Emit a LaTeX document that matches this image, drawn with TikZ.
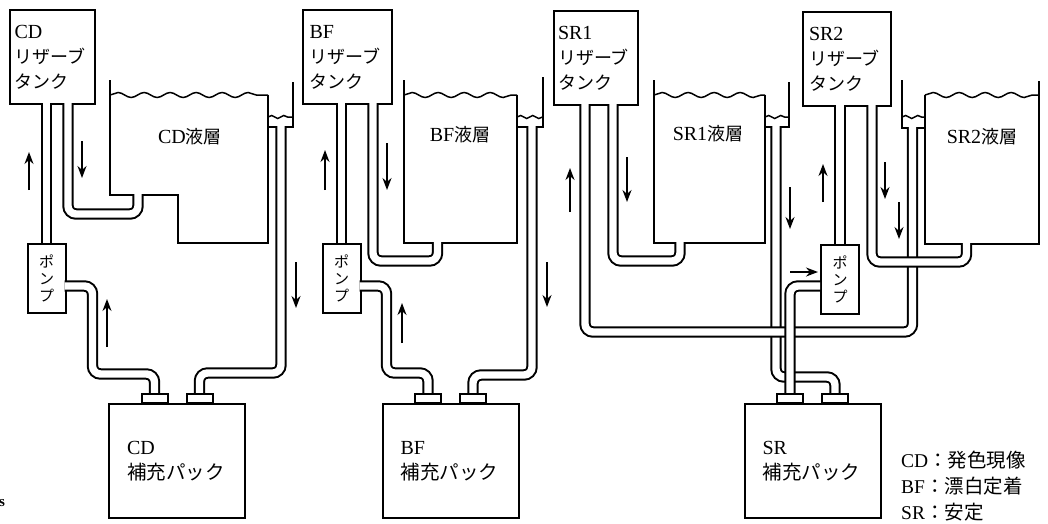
\documentclass[tikz,border=0pt]{standalone}
\usepackage{fontspec}
\setmainfont{Liberation Serif}
\newfontfamily\cjk{Noto Sans CJK JP}
\usetikzlibrary{arrows.meta,calc,decorations.pathmorphing}
\newcommand\jp[1]{{\cjk\fontsize{18}{25}\selectfont #1}}
\newcommand\jpb[1]{{\cjk\fontsize{19.5}{25}\selectfont #1}}
\tikzset{
  wall/.style={line width=2pt,line join=miter},
  pipe/.style={line width=2pt,double=white,double distance=7.4pt,rounded corners=8pt},
  surface/.style={line width=1.5pt,decorate,decoration={snake,segment length=26pt,amplitude=2.5pt}},
  ripple/.style={line width=1.5pt,decorate,decoration={snake,segment length=12pt,amplitude=1.5pt}},
  flow/.style={line width=1.5pt,-{Stealth[length=12pt,width=9pt]}},
  reserve/.style={draw,line width=2pt,fill=white,minimum height=94pt,inner xsep=0pt,
    text width=76pt,align=left,font=\fontsize{20}{25}\selectfont},
  pack/.style={draw,line width=2pt,fill=white,minimum width=136pt,minimum height=114pt,
    text width=100pt,align=left,font=\fontsize{20}{25}\selectfont},
  fitting/.style={draw,line width=2pt,fill=white,minimum width=26pt,minimum height=9.5pt,inner sep=0pt},
  pump/.style={draw,line width=2pt,fill=white,minimum width=38pt,minimum height=69pt,inner sep=0pt,
    align=center,font=\fontsize{15}{17}\selectfont\cjk},
  bathlabel/.style={font=\fontsize{20}{22}\selectfont}
}
\begin{document}
\begin{tikzpicture}[x=1pt,y=-1pt]
  \useasboundingbox (0,0) rectangle (1048,523);

  \foreach \n/\lbl/\cx/\cy/\w in {cd/CD/52.5/57/85,bf/BF/347.5/57/89,srone/SR1/596/58/84,srtwo/SR2/847/59/88}
    \node[reserve,minimum width=\w pt] (\n tank) at (\cx,\cy) {\lbl\\\jp{リザーブ}\\\jp{タンク}};
  \foreach \n/\lbl/\cx in {cd/CD/177,bf/BF/450.5,sr/SR/812.5}{
    \node[pack] (\n pack) at (\cx,461) {\lbl\\\jpb{補充パック}};
    \node[fitting] (\n packl) at ($(\n pack.north)+(-22.5,-4.5)$) {};
    \node[fitting] (\n packr) at ($(\n pack.north)+(22.5,-4.5)$) {};
  }
  \foreach \n/\cx/\cy in {cd/46.5/278,bf/341.5/278,sr/840/279}
    \node[pump] (\n pump) at (\cx,\cy) {ポ\\ン\\プ};

  % baths
  \draw[wall] (110,80) -- (110,195) -- (178,195) -- (178,243) -- (268,243) -- (268,95);
  \draw[wall] (268,127) -| (293,82);
  \draw[surface] (110,95) -- (268,95);
  \draw[ripple] (268,117) -- (293,117);
  \draw[wall] (404,80) -- (404,243) -- (517,243) -- (517,95);
  \draw[wall] (517,127) -| (543,77);
  \draw[surface] (404,95) -- (517,95);
  \draw[ripple] (517,117) -- (543,117);
  \draw[wall] (654,80) -- (654,243) -- (765,243) -- (765,95);
  \draw[wall] (765,127) -| (789,82);
  \draw[surface] (654,95) -- (765,95);
  \draw[ripple] (765,117) -- (789,117);
  \draw[wall] (1039,81) -- (1039,244) -- (925,244) -- (925,95);
  \draw[wall] (925,128) -| (902,80);
  \draw[surface] (925,95) -- (1039,95);
  \draw[ripple] (902,117) -- (925,117);

  \coordinate (cdin) at (138,194);
  \coordinate (cdout) at (281,126);
  \coordinate (bfin) at (437.5,242);
  \coordinate (bfout) at (532,126);
  \coordinate (sronein) at (680,242);
  \coordinate (sroneout) at (776,126);
  \coordinate (srtwoin) at (966.5,243);
  \coordinate (srtwoout) at (912.5,127);

  % pipes
  \draw[pipe] (cdpump.north) -- ($(cdpump.north |- cdtank.south)+(0,-2)$);
  \draw[pipe] ($(cdtank.south west)+(59,-2)$) -- ++(0,111) -| (cdin);
  \draw[pipe] ($(cdpump.east)+(-2,8)$) -- ++(28,0) -- ++(0,88) -| (cdpackl.north);
  \draw[pipe] (cdout) -- ++(0,247) -| (cdpackr.north);

  \draw[pipe] (bfpump.north) -- ($(bfpump.north |- bftank.south)+(0,-2)$);
  \draw[pipe] ($(bftank.south west)+(71,-2)$) -- ++(0,158) -| (bfin);
  \draw[pipe] ($(bfpump.east)+(-2,8)$) -- ++(27,0) -- ++(0,87) -| (bfpackl.north);
  \draw[pipe] (bfout) -- ++(0,249) -| (bfpackr.north);

  \draw[pipe] (sroneout) -- ++(0,251) -| (srpackr.north);
  \draw[pipe] ($(sronetank.south west)+(32,-2)$) -- ++(0,228) -| (srtwoout);
  \draw[pipe] ($(sronetank.south west)+(60,-2)$) -- ++(0,157) -| (sronein);
  \draw[pipe] ($(srtwotank.south west)+(70,-2)$) -- ++(0,157) -| (srtwoin);
  \draw[pipe] (srpump.north) -- ($(srpump.north |- srtwotank.south)+(0,-2)$);
  \draw[pipe] ($(srpump.west)+(0,7)$) -| (srpackl.north);

  \foreach \ax/\ya/\yb in {29/190/152,82/141/178,296/262/308,107/347/299,325/190/150,387/143/190,
      402/343/303,547/262/307,570/212/168,627/157/202,790/187/229,823/202/164,885/162/199,899/202/239}
    \draw[flow] (\ax,\ya) -- (\ax,\yb);
  \draw[flow] (790,272) -- (818,272);

  \node[bathlabel] (cdlabel) at (190,137) {CD\jp{液層}};
  \node[bathlabel] (bflabel) at (460,135) {BF\jp{液層}};
  \node[bathlabel] (sronelabel) at (708,134) {SR1\jp{液層}};
  \node[bathlabel] (srtwolabel) at (982,137) {SR2\jp{液層}};

  \node[anchor=west,inner sep=0pt,align=left,font=\fontsize{19.5}{26}\selectfont] (legend) at (901,486.5)
    {CD\jpb{：発色現像}\\BF\jpb{：漂白定着}\\SR\jpb{：安定}};
  \node[anchor=west,inner sep=0pt,font=\fontsize{15}{15}\selectfont\bfseries] (scanmark) at (-1,503) {s};
\end{tikzpicture}
\end{document}
